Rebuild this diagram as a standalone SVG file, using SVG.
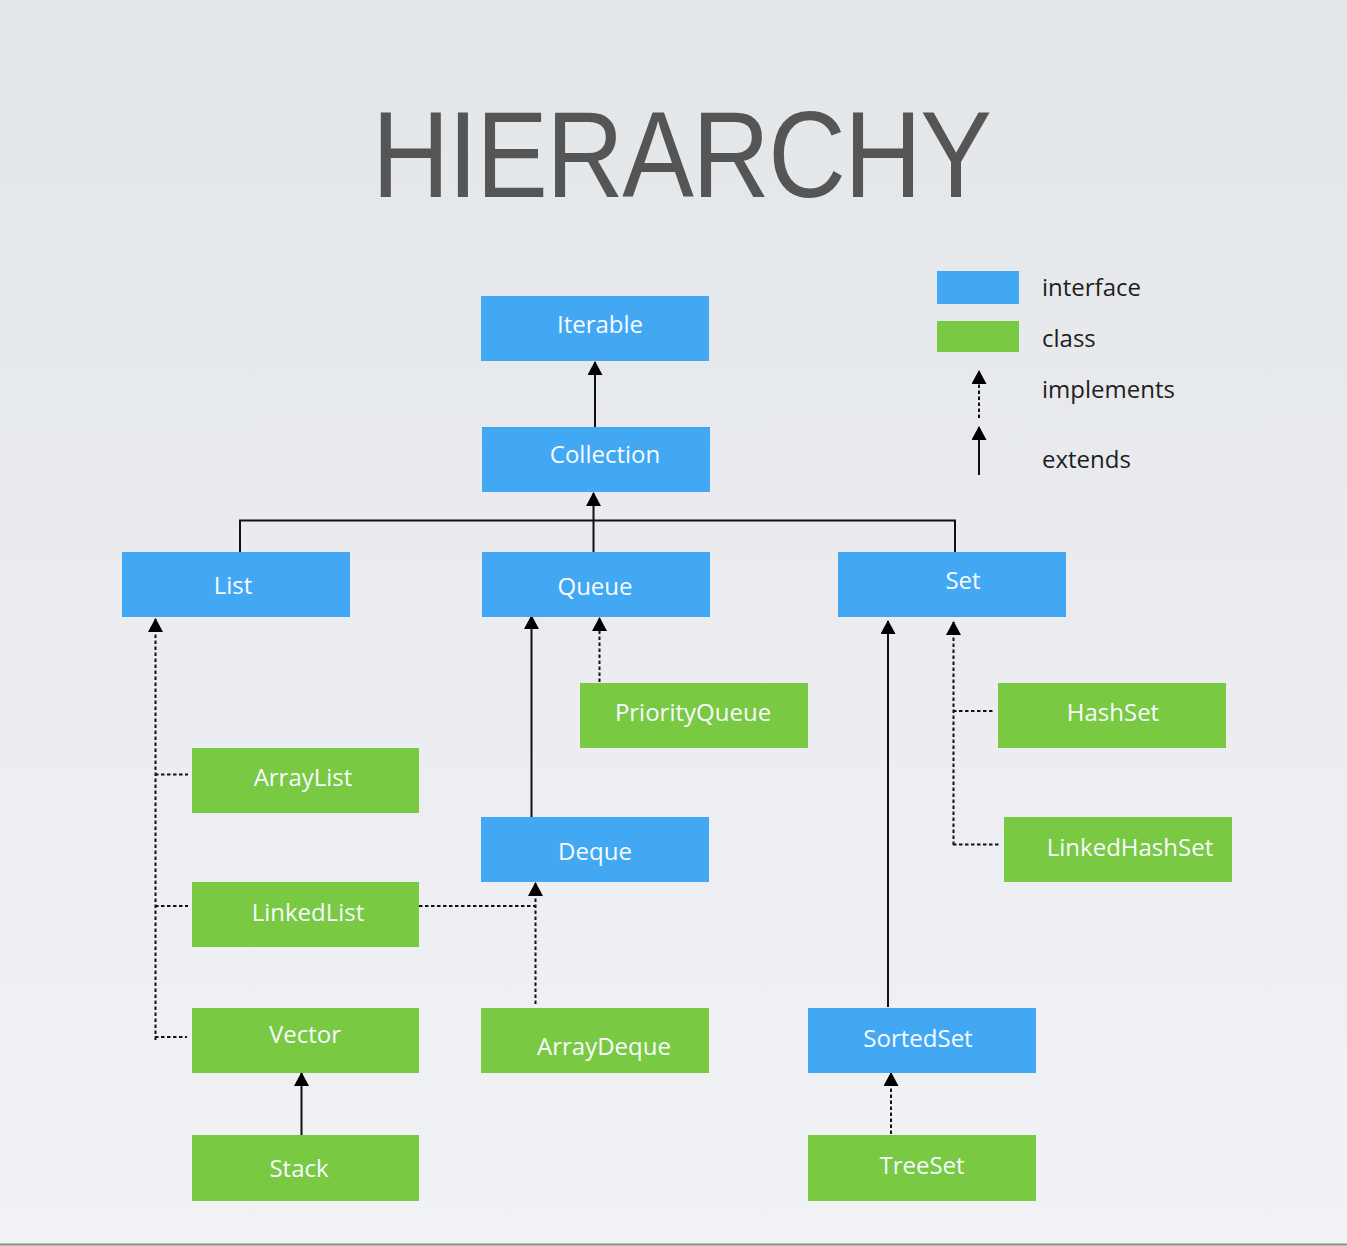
<svg xmlns="http://www.w3.org/2000/svg" width="1347" height="1246" viewBox="0 0 1347 1246">
  <defs>
    <linearGradient id="bg" x1="0" y1="0" x2="0" y2="1">
      <stop offset="0" stop-color="#e3e6e9"/>
      <stop offset="1" stop-color="#f1f2f5"/>
    </linearGradient>
    <marker id="arrow" viewBox="0 0 14 15" refX="13" refY="7.5" markerWidth="14" markerHeight="15" markerUnits="userSpaceOnUse" orient="auto">
      <path d="M0,0 L14,7.5 L0,15 Z" fill="#000"/>
    </marker>
    <style>
      .iface { fill: #42a8f4; }
      .cls { fill: #7ac943; }
      .lbl { font-family: "Open Sans", "DejaVu Sans", sans-serif; font-size: 24px; fill: #f7fbff; text-anchor: middle; }
      .leg { font-family: "Open Sans", "DejaVu Sans", sans-serif; font-size: 24px; fill: #1e1e1e; }
      .solid { stroke: #111; stroke-width: 2; fill: none; }
      .dash { stroke: #111; stroke-width: 2; fill: none; stroke-dasharray: 3.5 2.5; }
    </style>
  </defs>

  <rect x="0" y="0" width="1347" height="1246" fill="url(#bg)"/>
  <line x1="0" y1="1244.5" x2="1347" y2="1244.5" stroke="#8a8a8a" stroke-width="2"/>

  <text transform="scale(0.88,1)" x="422.7" y="197" font-family="'Liberation Sans', Arial, sans-serif" font-size="122" fill="#555555" textLength="704.5" lengthAdjust="spacing">HIERARCHY</text>

  <g id="legend">
    <rect class="iface" x="937" y="271" width="82" height="33"/>
    <rect class="cls" x="937" y="321" width="82" height="31"/>
    <text class="leg" x="1042" y="296">interface</text>
    <text class="leg" x="1042" y="347">class</text>
    <text class="leg" x="1042" y="398">implements</text>
    <text class="leg" x="1042" y="468">extends</text>
    <line class="dash" x1="979" y1="418" x2="979" y2="371" marker-end="url(#arrow)"/>
    <line class="solid" x1="979" y1="475" x2="979" y2="427" marker-end="url(#arrow)"/>
  </g>

  <g id="connectors">
    <line class="solid" x1="595" y1="427" x2="595" y2="362" stroke="#444" marker-end="url(#arrow)"/>
    <path class="solid" d="M240,552 V520.5 H955 V552" stroke-width="1.8"/>
    <line class="solid" x1="593.5" y1="552" x2="593.5" y2="493" marker-end="url(#arrow)"/>

    <line class="dash" x1="155.5" y1="1040" x2="155.5" y2="619" marker-end="url(#arrow)"/>
    <line class="dash" x1="155" y1="774.5" x2="188" y2="774.5"/>
    <line class="dash" x1="155" y1="906" x2="188" y2="906"/>
    <line class="dash" x1="155" y1="1037" x2="187" y2="1037"/>

    <line class="solid" x1="531.5" y1="817" x2="531.5" y2="616" marker-end="url(#arrow)"/>
    <line class="dash" x1="599.5" y1="682" x2="599.5" y2="618" marker-end="url(#arrow)"/>

    <line class="dash" x1="419" y1="906" x2="535.5" y2="906"/>
    <line class="dash" x1="535.5" y1="1004" x2="535.5" y2="883" marker-end="url(#arrow)"/>

    <line class="solid" x1="888" y1="1007" x2="888" y2="621" marker-end="url(#arrow)"/>
    <line class="dash" x1="953.5" y1="845" x2="953.5" y2="622" marker-end="url(#arrow)"/>
    <line class="dash" x1="953" y1="711" x2="995" y2="711"/>
    <line class="dash" x1="953" y1="844.5" x2="1000" y2="844.5"/>

    <line class="solid" x1="301.5" y1="1135" x2="301.5" y2="1073" marker-end="url(#arrow)"/>
    <line class="dash" x1="891" y1="1134" x2="891" y2="1073" marker-end="url(#arrow)"/>
  </g>

  <g id="node-iterable">
    <rect class="iface" x="481" y="296" width="228" height="65"/>
    <text class="lbl" x="600" y="333">Iterable</text>
  </g>
  <g id="node-collection">
    <rect class="iface" x="482" y="427" width="228" height="65"/>
    <text class="lbl" x="605" y="463">Collection</text>
  </g>
  <g id="node-list">
    <rect class="iface" x="122" y="552" width="228" height="65"/>
    <text class="lbl" x="233" y="594">List</text>
  </g>
  <g id="node-queue">
    <rect class="iface" x="482" y="552" width="228" height="65"/>
    <text class="lbl" x="595" y="595">Queue</text>
  </g>
  <g id="node-set">
    <rect class="iface" x="838" y="552" width="228" height="65"/>
    <text class="lbl" x="963" y="589">Set</text>
  </g>
  <g id="node-priorityqueue">
    <rect class="cls" x="580" y="683" width="228" height="65"/>
    <text class="lbl" x="693" y="721">PriorityQueue</text>
  </g>
  <g id="node-hashset">
    <rect class="cls" x="998" y="683" width="228" height="65"/>
    <text class="lbl" x="1113" y="721">HashSet</text>
  </g>
  <g id="node-arraylist">
    <rect class="cls" x="192" y="748" width="227" height="65"/>
    <text class="lbl" x="303" y="786">ArrayList</text>
  </g>
  <g id="node-deque">
    <rect class="iface" x="481" y="817" width="228" height="65"/>
    <text class="lbl" x="595" y="860">Deque</text>
  </g>
  <g id="node-linkedhashset">
    <rect class="cls" x="1004" y="817" width="228" height="65"/>
    <text class="lbl" x="1130" y="856">LinkedHashSet</text>
  </g>
  <g id="node-linkedlist">
    <rect class="cls" x="192" y="882" width="227" height="65"/>
    <text class="lbl" x="308" y="921">LinkedList</text>
  </g>
  <g id="node-vector">
    <rect class="cls" x="192" y="1008" width="227" height="65"/>
    <text class="lbl" x="305" y="1043">Vector</text>
  </g>
  <g id="node-arraydeque">
    <rect class="cls" x="481" y="1008" width="228" height="65"/>
    <text class="lbl" x="604" y="1055">ArrayDeque</text>
  </g>
  <g id="node-sortedset">
    <rect class="iface" x="808" y="1008" width="228" height="65"/>
    <text class="lbl" x="918" y="1047">SortedSet</text>
  </g>
  <g id="node-stack">
    <rect class="cls" x="192" y="1135" width="227" height="66"/>
    <text class="lbl" x="299" y="1177">Stack</text>
  </g>
  <g id="node-treeset">
    <rect class="cls" x="808" y="1135" width="228" height="66"/>
    <text class="lbl" x="922" y="1174">TreeSet</text>
  </g>
</svg>
